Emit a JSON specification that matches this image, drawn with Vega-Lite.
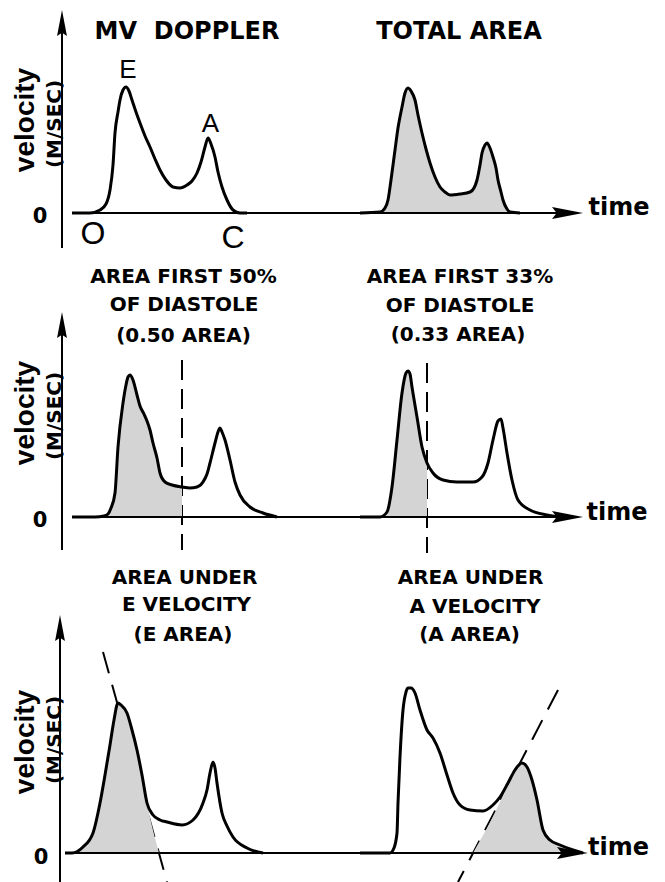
{
  "$schema": "https://vega.github.io/schema/vega-lite/v6.json",
  "background": "white",
  "padding": 0,
  "spacing": 0,
  "bounds": "flush",
  "config": {"view": {"stroke": null}},
  "datasets": {
    "curves": [
      {"row":1,"panel":"L","t":20,"v":0},{"row":1,"panel":"L","t":56,"v":0},{"row":1,"panel":"L","t":76,"v":0.024},{"row":1,"panel":"L","t":88,"v":0.072},{"row":1,"panel":"L","t":96,"v":0.184},{"row":1,"panel":"L","t":102,"v":0.384},{"row":1,"panel":"L","t":106,"v":0.64},{"row":1,"panel":"L","t":112,"v":0.808},{"row":1,"panel":"L","t":116,"v":0.904},{"row":1,"panel":"L","t":122,"v":0.984},{"row":1,"panel":"L","t":128,"v":1.008},{"row":1,"panel":"L","t":134,"v":0.976},{"row":1,"panel":"L","t":140,"v":0.904},{"row":1,"panel":"L","t":148,"v":0.808},{"row":1,"panel":"L","t":156,"v":0.72},{"row":1,"panel":"L","t":166,"v":0.616},{"row":1,"panel":"L","t":176,"v":0.528},{"row":1,"panel":"L","t":186,"v":0.432},{"row":1,"panel":"L","t":196,"v":0.344},{"row":1,"panel":"L","t":208,"v":0.264},{"row":1,"panel":"L","t":222,"v":0.208},{"row":1,"panel":"L","t":236,"v":0.2},{"row":1,"panel":"L","t":250,"v":0.224},{"row":1,"panel":"L","t":260,"v":0.256},{"row":1,"panel":"L","t":270,"v":0.32},{"row":1,"panel":"L","t":278,"v":0.408},{"row":1,"panel":"L","t":286,"v":0.528},{"row":1,"panel":"L","t":292,"v":0.6},{"row":1,"panel":"L","t":298,"v":0.552},{"row":1,"panel":"L","t":306,"v":0.448},{"row":1,"panel":"L","t":312,"v":0.328},{"row":1,"panel":"L","t":320,"v":0.208},{"row":1,"panel":"L","t":330,"v":0.104},{"row":1,"panel":"L","t":342,"v":0.024},{"row":1,"panel":"L","t":356,"v":0},{"row":1,"panel":"L","t":370,"v":0},
      {"row":1,"panel":"R","t":596,"v":0},{"row":1,"panel":"R","t":636,"v":0.008},{"row":1,"panel":"R","t":646,"v":0.04},{"row":1,"panel":"R","t":652,"v":0.104},{"row":1,"panel":"R","t":658,"v":0.264},{"row":1,"panel":"R","t":666,"v":0.504},{"row":1,"panel":"R","t":672,"v":0.68},{"row":1,"panel":"R","t":680,"v":0.848},{"row":1,"panel":"R","t":686,"v":0.96},{"row":1,"panel":"R","t":692,"v":1.0},{"row":1,"panel":"R","t":698,"v":0.976},{"row":1,"panel":"R","t":706,"v":0.904},{"row":1,"panel":"R","t":712,"v":0.784},{"row":1,"panel":"R","t":720,"v":0.64},{"row":1,"panel":"R","t":728,"v":0.512},{"row":1,"panel":"R","t":736,"v":0.4},{"row":1,"panel":"R","t":746,"v":0.288},{"row":1,"panel":"R","t":756,"v":0.208},{"row":1,"panel":"R","t":766,"v":0.168},{"row":1,"panel":"R","t":776,"v":0.144},{"row":1,"panel":"R","t":796,"v":0.152},{"row":1,"panel":"R","t":816,"v":0.168},{"row":1,"panel":"R","t":824,"v":0.2},{"row":1,"panel":"R","t":830,"v":0.264},{"row":1,"panel":"R","t":836,"v":0.384},{"row":1,"panel":"R","t":840,"v":0.48},{"row":1,"panel":"R","t":846,"v":0.544},{"row":1,"panel":"R","t":850,"v":0.56},{"row":1,"panel":"R","t":856,"v":0.52},{"row":1,"panel":"R","t":862,"v":0.448},{"row":1,"panel":"R","t":868,"v":0.36},{"row":1,"panel":"R","t":872,"v":0.264},{"row":1,"panel":"R","t":878,"v":0.168},{"row":1,"panel":"R","t":882,"v":0.104},{"row":1,"panel":"R","t":890,"v":0.032},{"row":1,"panel":"R","t":896,"v":0.008},{"row":1,"panel":"R","t":916,"v":0},
      {"row":2,"panel":"L","t":20,"v":0},{"row":2,"panel":"L","t":66,"v":0},{"row":2,"panel":"L","t":84,"v":0.008},{"row":2,"panel":"L","t":92,"v":0.024},{"row":2,"panel":"L","t":98,"v":0.072},{"row":2,"panel":"L","t":106,"v":0.192},{"row":2,"panel":"L","t":112,"v":0.56},{"row":2,"panel":"L","t":122,"v":0.912},{"row":2,"panel":"L","t":128,"v":1.056},{"row":2,"panel":"L","t":132,"v":1.12},{"row":2,"panel":"L","t":136,"v":1.136},{"row":2,"panel":"L","t":142,"v":1.096},{"row":2,"panel":"L","t":150,"v":0.976},{"row":2,"panel":"L","t":156,"v":0.888},{"row":2,"panel":"L","t":164,"v":0.824},{"row":2,"panel":"L","t":170,"v":0.768},{"row":2,"panel":"L","t":176,"v":0.696},{"row":2,"panel":"L","t":182,"v":0.592},{"row":2,"panel":"L","t":190,"v":0.472},{"row":2,"panel":"L","t":196,"v":0.352},{"row":2,"panel":"L","t":206,"v":0.28},{"row":2,"panel":"L","t":220,"v":0.256},{"row":2,"panel":"L","t":240,"v":0.24},{"row":2,"panel":"L","t":256,"v":0.232},{"row":2,"panel":"L","t":270,"v":0.24},{"row":2,"panel":"L","t":282,"v":0.28},{"row":2,"panel":"L","t":290,"v":0.344},{"row":2,"panel":"L","t":296,"v":0.432},{"row":2,"panel":"L","t":306,"v":0.592},{"row":2,"panel":"L","t":312,"v":0.68},{"row":2,"panel":"L","t":316,"v":0.712},{"row":2,"panel":"L","t":320,"v":0.68},{"row":2,"panel":"L","t":326,"v":0.616},{"row":2,"panel":"L","t":336,"v":0.456},{"row":2,"panel":"L","t":346,"v":0.28},{"row":2,"panel":"L","t":356,"v":0.176},{"row":2,"panel":"L","t":376,"v":0.08},{"row":2,"panel":"L","t":402,"v":0.032},{"row":2,"panel":"L","t":430,"v":0},
      {"row":2,"panel":"R","t":596,"v":0},{"row":2,"panel":"R","t":636,"v":0},{"row":2,"panel":"R","t":650,"v":0.04},{"row":2,"panel":"R","t":660,"v":0.24},{"row":2,"panel":"R","t":670,"v":0.616},{"row":2,"panel":"R","t":680,"v":0.992},{"row":2,"panel":"R","t":688,"v":1.152},{"row":2,"panel":"R","t":692,"v":1.168},{"row":2,"panel":"R","t":696,"v":1.144},{"row":2,"panel":"R","t":700,"v":1.04},{"row":2,"panel":"R","t":710,"v":0.8},{"row":2,"panel":"R","t":720,"v":0.56},{"row":2,"panel":"R","t":730,"v":0.432},{"row":2,"panel":"R","t":742,"v":0.352},{"row":2,"panel":"R","t":762,"v":0.296},{"row":2,"panel":"R","t":790,"v":0.28},{"row":2,"panel":"R","t":822,"v":0.28},{"row":2,"panel":"R","t":840,"v":0.32},{"row":2,"panel":"R","t":852,"v":0.432},{"row":2,"panel":"R","t":862,"v":0.616},{"row":2,"panel":"R","t":872,"v":0.768},{"row":2,"panel":"R","t":878,"v":0.784},{"row":2,"panel":"R","t":882,"v":0.712},{"row":2,"panel":"R","t":890,"v":0.512},{"row":2,"panel":"R","t":900,"v":0.296},{"row":2,"panel":"R","t":912,"v":0.136},{"row":2,"panel":"R","t":936,"v":0.056},{"row":2,"panel":"R","t":970,"v":0.016},{"row":2,"panel":"R","t":996,"v":0},
      {"row":3,"panel":"L","t":6,"v":0},{"row":3,"panel":"L","t":20,"v":0},{"row":3,"panel":"L","t":42,"v":0.048},{"row":3,"panel":"L","t":62,"v":0.16},{"row":3,"panel":"L","t":76,"v":0.4},{"row":3,"panel":"L","t":86,"v":0.624},{"row":3,"panel":"L","t":96,"v":0.864},{"row":3,"panel":"L","t":104,"v":1.064},{"row":3,"panel":"L","t":112,"v":1.2},{"row":3,"panel":"L","t":118,"v":1.184},{"row":3,"panel":"L","t":130,"v":1.12},{"row":3,"panel":"L","t":140,"v":0.984},{"row":3,"panel":"L","t":150,"v":0.824},{"row":3,"panel":"L","t":160,"v":0.624},{"row":3,"panel":"L","t":170,"v":0.4},{"row":3,"panel":"L","t":182,"v":0.304},{"row":3,"panel":"L","t":196,"v":0.264},{"row":3,"panel":"L","t":210,"v":0.248},{"row":3,"panel":"L","t":240,"v":0.224},{"row":3,"panel":"L","t":262,"v":0.264},{"row":3,"panel":"L","t":282,"v":0.4},{"row":3,"panel":"L","t":290,"v":0.504},{"row":3,"panel":"L","t":296,"v":0.64},{"row":3,"panel":"L","t":302,"v":0.728},{"row":3,"panel":"L","t":306,"v":0.68},{"row":3,"panel":"L","t":310,"v":0.56},{"row":3,"panel":"L","t":320,"v":0.32},{"row":3,"panel":"L","t":330,"v":0.216},{"row":3,"panel":"L","t":342,"v":0.128},{"row":3,"panel":"L","t":370,"v":0.04},{"row":3,"panel":"L","t":402,"v":0},
      {"row":3,"panel":"R","t":596,"v":0},{"row":3,"panel":"R","t":656,"v":0},{"row":3,"panel":"R","t":664,"v":0.04},{"row":3,"panel":"R","t":670,"v":0.16},{"row":3,"panel":"R","t":672,"v":0.4},{"row":3,"panel":"R","t":676,"v":0.768},{"row":3,"panel":"R","t":682,"v":1.144},{"row":3,"panel":"R","t":688,"v":1.288},{"row":3,"panel":"R","t":692,"v":1.32},{"row":3,"panel":"R","t":698,"v":1.32},{"row":3,"panel":"R","t":706,"v":1.28},{"row":3,"panel":"R","t":716,"v":1.144},{"row":3,"panel":"R","t":730,"v":0.984},{"row":3,"panel":"R","t":742,"v":0.92},{"row":3,"panel":"R","t":756,"v":0.8},{"row":3,"panel":"R","t":770,"v":0.624},{"row":3,"panel":"R","t":782,"v":0.48},{"row":3,"panel":"R","t":796,"v":0.384},{"row":3,"panel":"R","t":816,"v":0.344},{"row":3,"panel":"R","t":842,"v":0.336},{"row":3,"panel":"R","t":862,"v":0.384},{"row":3,"panel":"R","t":876,"v":0.448},{"row":3,"panel":"R","t":892,"v":0.56},{"row":3,"panel":"R","t":906,"v":0.664},{"row":3,"panel":"R","t":920,"v":0.72},{"row":3,"panel":"R","t":930,"v":0.688},{"row":3,"panel":"R","t":940,"v":0.584},{"row":3,"panel":"R","t":950,"v":0.424},{"row":3,"panel":"R","t":962,"v":0.184},{"row":3,"panel":"R","t":976,"v":0.104},{"row":3,"panel":"R","t":996,"v":0.064},{"row":3,"panel":"R","t":1022,"v":0.024},{"row":3,"panel":"R","t":1042,"v":0}
    ],
    "fills": [
      {"row":1,"panel":"R","t":596,"v":0},{"row":1,"panel":"R","t":636,"v":0.008},{"row":1,"panel":"R","t":646,"v":0.04},{"row":1,"panel":"R","t":652,"v":0.104},{"row":1,"panel":"R","t":658,"v":0.264},{"row":1,"panel":"R","t":666,"v":0.504},{"row":1,"panel":"R","t":672,"v":0.68},{"row":1,"panel":"R","t":680,"v":0.848},{"row":1,"panel":"R","t":686,"v":0.96},{"row":1,"panel":"R","t":692,"v":1.0},{"row":1,"panel":"R","t":698,"v":0.976},{"row":1,"panel":"R","t":706,"v":0.904},{"row":1,"panel":"R","t":712,"v":0.784},{"row":1,"panel":"R","t":720,"v":0.64},{"row":1,"panel":"R","t":728,"v":0.512},{"row":1,"panel":"R","t":736,"v":0.4},{"row":1,"panel":"R","t":746,"v":0.288},{"row":1,"panel":"R","t":756,"v":0.208},{"row":1,"panel":"R","t":766,"v":0.168},{"row":1,"panel":"R","t":776,"v":0.144},{"row":1,"panel":"R","t":796,"v":0.152},{"row":1,"panel":"R","t":816,"v":0.168},{"row":1,"panel":"R","t":824,"v":0.2},{"row":1,"panel":"R","t":830,"v":0.264},{"row":1,"panel":"R","t":836,"v":0.384},{"row":1,"panel":"R","t":840,"v":0.48},{"row":1,"panel":"R","t":846,"v":0.544},{"row":1,"panel":"R","t":850,"v":0.56},{"row":1,"panel":"R","t":856,"v":0.52},{"row":1,"panel":"R","t":862,"v":0.448},{"row":1,"panel":"R","t":868,"v":0.36},{"row":1,"panel":"R","t":872,"v":0.264},{"row":1,"panel":"R","t":878,"v":0.168},{"row":1,"panel":"R","t":882,"v":0.104},{"row":1,"panel":"R","t":890,"v":0.032},{"row":1,"panel":"R","t":896,"v":0.008},{"row":1,"panel":"R","t":916,"v":0},
      {"row":2,"panel":"L","t":66,"v":0},{"row":2,"panel":"L","t":84,"v":0.008},{"row":2,"panel":"L","t":92,"v":0.024},{"row":2,"panel":"L","t":98,"v":0.072},{"row":2,"panel":"L","t":106,"v":0.192},{"row":2,"panel":"L","t":112,"v":0.56},{"row":2,"panel":"L","t":122,"v":0.912},{"row":2,"panel":"L","t":128,"v":1.056},{"row":2,"panel":"L","t":132,"v":1.12},{"row":2,"panel":"L","t":136,"v":1.136},{"row":2,"panel":"L","t":142,"v":1.096},{"row":2,"panel":"L","t":150,"v":0.976},{"row":2,"panel":"L","t":156,"v":0.888},{"row":2,"panel":"L","t":164,"v":0.824},{"row":2,"panel":"L","t":170,"v":0.768},{"row":2,"panel":"L","t":176,"v":0.696},{"row":2,"panel":"L","t":182,"v":0.592},{"row":2,"panel":"L","t":190,"v":0.472},{"row":2,"panel":"L","t":196,"v":0.352},{"row":2,"panel":"L","t":206,"v":0.28},{"row":2,"panel":"L","t":220,"v":0.256},{"row":2,"panel":"L","t":240,"v":0.24},
      {"row":2,"panel":"R","t":636,"v":0},{"row":2,"panel":"R","t":650,"v":0.04},{"row":2,"panel":"R","t":660,"v":0.24},{"row":2,"panel":"R","t":670,"v":0.616},{"row":2,"panel":"R","t":680,"v":0.992},{"row":2,"panel":"R","t":688,"v":1.152},{"row":2,"panel":"R","t":692,"v":1.168},{"row":2,"panel":"R","t":696,"v":1.144},{"row":2,"panel":"R","t":700,"v":1.04},{"row":2,"panel":"R","t":710,"v":0.8},{"row":2,"panel":"R","t":720,"v":0.56},{"row":2,"panel":"R","t":730,"v":0.432},
      {"row":3,"panel":"L","t":20,"v":0},{"row":3,"panel":"L","t":42,"v":0.048},{"row":3,"panel":"L","t":62,"v":0.16},{"row":3,"panel":"L","t":76,"v":0.4},{"row":3,"panel":"L","t":86,"v":0.624},{"row":3,"panel":"L","t":96,"v":0.864},{"row":3,"panel":"L","t":104,"v":1.064},{"row":3,"panel":"L","t":112,"v":1.2},{"row":3,"panel":"L","t":118,"v":1.184},{"row":3,"panel":"L","t":130,"v":1.12},{"row":3,"panel":"L","t":140,"v":0.984},{"row":3,"panel":"L","t":150,"v":0.824},{"row":3,"panel":"L","t":160,"v":0.624},{"row":3,"panel":"L","t":170,"v":0.4},{"row":3,"panel":"L","t":194,"v":0},
      {"row":3,"panel":"R","t":822,"v":0},{"row":3,"panel":"R","t":890,"v":0.54},{"row":3,"panel":"R","t":892,"v":0.56},{"row":3,"panel":"R","t":906,"v":0.664},{"row":3,"panel":"R","t":920,"v":0.72},{"row":3,"panel":"R","t":930,"v":0.688},{"row":3,"panel":"R","t":940,"v":0.584},{"row":3,"panel":"R","t":950,"v":0.424},{"row":3,"panel":"R","t":962,"v":0.184},{"row":3,"panel":"R","t":976,"v":0.104},{"row":3,"panel":"R","t":996,"v":0.064},{"row":3,"panel":"R","t":1022,"v":0.024},{"row":3,"panel":"R","t":1042,"v":0}
    ],
    "axes": [
      {"row":1,"t":0,"v":-0.28,"t2":0,"v2":1.56},{"row":1,"t":20,"v":0,"t2":1030,"v2":0},
      {"row":2,"t":0,"v":-0.264,"t2":0,"v2":1.58},{"row":2,"t":20,"v":0,"t2":1030,"v2":0},
      {"row":3,"t":-4,"v":-0.232,"t2":-4,"v2":1.84},{"row":3,"t":6,"v":0,"t2":1040,"v2":0}
    ],
    "dashes": [
      {"row":2,"t":240,"v":1.256,"t2":240,"v2":-0.264},{"row":2,"t":730,"v":1.232,"t2":730,"v2":-0.288},
      {"row":3,"t":82,"v":1.608,"t2":210,"v2":-0.232},{"row":3,"t":992,"v":1.304,"t2":792,"v2":-0.232}
    ],
    "uparrows": [{"row":1,"t":0,"v":1.52},{"row":2,"t":0,"v":1.536},{"row":3,"t":-4,"v":1.8}],
    "rightarrows": [{"row":1,"t":1011,"v":0},{"row":2,"t":1011,"v":0},{"row":3,"t":1021,"v":0}],
    "labels": [
      {"row":1,"role":"title","text":"MV\u00a0 DOPPLER","t":250,"v":1.448},
      {"row":1,"role":"title","text":"TOTAL AREA","t":794,"v":1.448},
      {"row":1,"role":"ylabel","text":"velocity","t":-72,"v":0.744},
      {"row":1,"role":"yunit","text":"(M/SEC)","t":-14,"v":0.712},
      {"row":1,"role":"zero","text":"0","t":-44,"v":-0.032},
      {"row":1,"role":"time","text":"time","t":1114,"v":0.04},
      {"row":1,"role":"peak","text":"E","t":132,"v":1.144},
      {"row":1,"role":"peak","text":"A","t":297,"v":0.712},
      {"row":1,"role":"valve","text":"O","t":62,"v":-0.168},
      {"row":1,"role":"valve","text":"C","t":342,"v":-0.2},
      {"row":2,"role":"title","text":"AREA FIRST 50%","t":243,"v":1.92},
      {"row":2,"role":"title","text":"OF DIASTOLE","t":244,"v":1.696},
      {"row":2,"role":"title","text":"(0.50 AREA)","t":243,"v":1.448},
      {"row":2,"role":"title","text":"AREA FIRST 33%","t":796,"v":1.92},
      {"row":2,"role":"title","text":"OF DIASTOLE","t":796,"v":1.688},
      {"row":2,"role":"title","text":"(0.33 AREA)","t":792,"v":1.456},
      {"row":2,"role":"ylabel","text":"velocity","t":-72,"v":0.832},
      {"row":2,"role":"yunit","text":"(M/SEC)","t":-14,"v":0.808},
      {"row":2,"role":"zero","text":"0","t":-44,"v":-0.028},
      {"row":2,"role":"time","text":"time","t":1110,"v":0.032},
      {"row":3,"role":"title","text":"AREA UNDER","t":245,"v":2.2},
      {"row":3,"role":"title","text":"E VELOCITY","t":249,"v":1.984},
      {"row":3,"role":"title","text":"(E AREA)","t":242,"v":1.744},
      {"row":3,"role":"title","text":"AREA UNDER","t":817,"v":2.2},
      {"row":3,"role":"title","text":"A VELOCITY","t":826,"v":1.968},
      {"row":3,"role":"title","text":"(A AREA)","t":815,"v":1.744},
      {"row":3,"role":"ylabel","text":"velocity","t":-72,"v":0.888},
      {"row":3,"role":"yunit","text":"(M/SEC)","t":-14,"v":0.904},
      {"row":3,"role":"zero","text":"0","t":-42,"v":-0.04},
      {"row":3,"role":"time","text":"time","t":1113,"v":0.04}
    ]
  },
  "vconcat": [
    {
      "width": 665, "height": 260,
      "encoding": {
        "x": {"field": "t", "type": "quantitative", "scale": {"domain": [-124, 1206], "nice": false, "zero": false}, "axis": null},
        "y": {"field": "v", "type": "quantitative", "scale": {"domain": [-0.376, 1.704], "nice": false, "zero": false}, "axis": null}
      },
      "layer": [
        {"data": {"name": "fills"}, "transform": [{"filter": "datum.row == 1 && datum.panel == 'R'"}], "mark": {"type": "area", "fill": "#d4d4d4", "interpolate": "monotone"}, "encoding": {"y2": {"datum": 0}}},
        {"data": {"name": "curves"}, "transform": [{"filter": "datum.row == 1"}], "mark": {"type": "line", "color": "black", "strokeWidth": 3, "interpolate": "monotone"}, "encoding": {"detail": {"field": "panel"}}},
        {"data": {"name": "axes"}, "transform": [{"filter": "datum.row == 1"}], "mark": {"type": "rule", "color": "black", "strokeWidth": 2}, "encoding": {"x2": {"field": "t2"}, "y2": {"field": "v2"}}},
        {"data": {"name": "uparrows"}, "transform": [{"filter": "datum.row == 1"}], "mark": {"type": "point", "shape": "M0,-1L0.38,1L0,0.75L-0.38,1Z", "size": 676, "filled": true, "color": "black", "opacity": 1, "strokeWidth": 0}},
        {"data": {"name": "rightarrows"}, "transform": [{"filter": "datum.row == 1"}], "mark": {"type": "point", "shape": "M1,0L-1,-0.38L-0.7,0L-1,0.38Z", "size": 961, "filled": true, "color": "black", "opacity": 1, "strokeWidth": 0}},
        {"data": {"name": "labels"}, "transform": [{"filter": "datum.row == 1 && datum.role == 'title'"}], "mark": {"type": "text", "font": "DejaVu Sans", "fontWeight": "bold", "fontSize": 24, "align": "center", "baseline": "middle", "color": "black"}, "encoding": {"text": {"field": "text"}}},
        {"data": {"name": "labels"}, "transform": [{"filter": "datum.row == 1 && datum.role == 'ylabel'"}], "mark": {"type": "text", "font": "Liberation Sans", "fontWeight": "bold", "fontSize": 28, "angle": 270, "align": "center", "baseline": "middle", "color": "black"}, "encoding": {"text": {"field": "text"}}},
        {"data": {"name": "labels"}, "transform": [{"filter": "datum.row == 1 && datum.role == 'yunit'"}], "mark": {"type": "text", "font": "DejaVu Sans", "fontWeight": "bold", "fontSize": 20, "angle": 270, "align": "center", "baseline": "middle", "color": "black"}, "encoding": {"text": {"field": "text"}}},
        {"data": {"name": "labels"}, "transform": [{"filter": "datum.row == 1 && datum.role == 'zero'"}], "mark": {"type": "text", "font": "DejaVu Sans", "fontWeight": "bold", "fontSize": 21, "align": "center", "baseline": "middle", "color": "black"}, "encoding": {"text": {"field": "text"}}},
        {"data": {"name": "labels"}, "transform": [{"filter": "datum.row == 1 && datum.role == 'time'"}], "mark": {"type": "text", "font": "DejaVu Sans", "fontWeight": "bold", "fontSize": 24, "align": "center", "baseline": "middle", "color": "black"}, "encoding": {"text": {"field": "text"}}},
        {"data": {"name": "labels"}, "transform": [{"filter": "datum.row == 1 && datum.role == 'peak'"}], "mark": {"type": "text", "font": "Liberation Sans", "fontSize": 26, "align": "center", "baseline": "middle", "color": "black"}, "encoding": {"text": {"field": "text"}}},
        {"data": {"name": "labels"}, "transform": [{"filter": "datum.row == 1 && datum.role == 'valve'"}], "mark": {"type": "text", "font": "Liberation Sans", "fontSize": 32, "align": "center", "baseline": "middle", "color": "black"}, "encoding": {"text": {"field": "text"}}}
      ]
    },
    {
      "width": 665, "height": 310,
      "encoding": {
        "x": {"field": "t", "type": "quantitative", "scale": {"domain": [-124, 1206], "nice": false, "zero": false}, "axis": null},
        "y": {"field": "v", "type": "quantitative", "scale": {"domain": [-0.424, 2.056], "nice": false, "zero": false}, "axis": null}
      },
      "layer": [
        {"data": {"name": "dashes"}, "transform": [{"filter": "datum.row == 2"}], "mark": {"type": "rule", "color": "black", "strokeWidth": 2, "strokeDash": [20, 9]}, "encoding": {"x2": {"field": "t2"}, "y2": {"field": "v2"}}},
        {"data": {"name": "fills"}, "transform": [{"filter": "datum.row == 2 && datum.panel == 'L'"}], "mark": {"type": "area", "fill": "#d4d4d4", "interpolate": "monotone"}, "encoding": {"y2": {"datum": 0}}},
        {"data": {"name": "fills"}, "transform": [{"filter": "datum.row == 2 && datum.panel == 'R'"}], "mark": {"type": "area", "fill": "#d4d4d4", "interpolate": "monotone"}, "encoding": {"y2": {"datum": 0}}},
        {"data": {"name": "curves"}, "transform": [{"filter": "datum.row == 2"}], "mark": {"type": "line", "color": "black", "strokeWidth": 3, "interpolate": "monotone"}, "encoding": {"detail": {"field": "panel"}}},
        {"data": {"name": "axes"}, "transform": [{"filter": "datum.row == 2"}], "mark": {"type": "rule", "color": "black", "strokeWidth": 2}, "encoding": {"x2": {"field": "t2"}, "y2": {"field": "v2"}}},
        {"data": {"name": "uparrows"}, "transform": [{"filter": "datum.row == 2"}], "mark": {"type": "point", "shape": "M0,-1L0.38,1L0,0.75L-0.38,1Z", "size": 676, "filled": true, "color": "black", "opacity": 1, "strokeWidth": 0}},
        {"data": {"name": "rightarrows"}, "transform": [{"filter": "datum.row == 2"}], "mark": {"type": "point", "shape": "M1,0L-1,-0.38L-0.7,0L-1,0.38Z", "size": 961, "filled": true, "color": "black", "opacity": 1, "strokeWidth": 0}},
        {"data": {"name": "labels"}, "transform": [{"filter": "datum.row == 2 && datum.role == 'title'"}], "mark": {"type": "text", "font": "DejaVu Sans", "fontWeight": "bold", "fontSize": 20, "align": "center", "baseline": "middle", "color": "black"}, "encoding": {"text": {"field": "text"}}},
        {"data": {"name": "labels"}, "transform": [{"filter": "datum.row == 2 && datum.role == 'ylabel'"}], "mark": {"type": "text", "font": "Liberation Sans", "fontWeight": "bold", "fontSize": 28, "angle": 270, "align": "center", "baseline": "middle", "color": "black"}, "encoding": {"text": {"field": "text"}}},
        {"data": {"name": "labels"}, "transform": [{"filter": "datum.row == 2 && datum.role == 'yunit'"}], "mark": {"type": "text", "font": "DejaVu Sans", "fontWeight": "bold", "fontSize": 20, "angle": 270, "align": "center", "baseline": "middle", "color": "black"}, "encoding": {"text": {"field": "text"}}},
        {"data": {"name": "labels"}, "transform": [{"filter": "datum.row == 2 && datum.role == 'zero'"}], "mark": {"type": "text", "font": "DejaVu Sans", "fontWeight": "bold", "fontSize": 21, "align": "center", "baseline": "middle", "color": "black"}, "encoding": {"text": {"field": "text"}}},
        {"data": {"name": "labels"}, "transform": [{"filter": "datum.row == 2 && datum.role == 'time'"}], "mark": {"type": "text", "font": "DejaVu Sans", "fontWeight": "bold", "fontSize": 24, "align": "center", "baseline": "middle", "color": "black"}, "encoding": {"text": {"field": "text"}}}
      ]
    },
    {
      "width": 665, "height": 312,
      "encoding": {
        "x": {"field": "t", "type": "quantitative", "scale": {"domain": [-124, 1206], "nice": false, "zero": false}, "axis": null},
        "y": {"field": "v", "type": "quantitative", "scale": {"domain": [-0.232, 2.264], "nice": false, "zero": false}, "axis": null}
      },
      "layer": [
        {"data": {"name": "dashes"}, "transform": [{"filter": "datum.row == 3"}], "mark": {"type": "rule", "color": "black", "strokeWidth": 2, "strokeDash": [22, 12]}, "encoding": {"x2": {"field": "t2"}, "y2": {"field": "v2"}}},
        {"data": {"name": "fills"}, "transform": [{"filter": "datum.row == 3 && datum.panel == 'L'"}], "mark": {"type": "area", "fill": "#d4d4d4", "interpolate": "monotone"}, "encoding": {"y2": {"datum": 0}}},
        {"data": {"name": "fills"}, "transform": [{"filter": "datum.row == 3 && datum.panel == 'R'"}], "mark": {"type": "area", "fill": "#d4d4d4", "interpolate": "monotone"}, "encoding": {"y2": {"datum": 0}}},
        {"data": {"name": "curves"}, "transform": [{"filter": "datum.row == 3"}], "mark": {"type": "line", "color": "black", "strokeWidth": 3, "interpolate": "monotone"}, "encoding": {"detail": {"field": "panel"}}},
        {"data": {"name": "axes"}, "transform": [{"filter": "datum.row == 3"}], "mark": {"type": "rule", "color": "black", "strokeWidth": 2}, "encoding": {"x2": {"field": "t2"}, "y2": {"field": "v2"}}},
        {"data": {"name": "uparrows"}, "transform": [{"filter": "datum.row == 3"}], "mark": {"type": "point", "shape": "M0,-1L0.38,1L0,0.75L-0.38,1Z", "size": 676, "filled": true, "color": "black", "opacity": 1, "strokeWidth": 0}},
        {"data": {"name": "rightarrows"}, "transform": [{"filter": "datum.row == 3"}], "mark": {"type": "point", "shape": "M1,0L-1,-0.38L-0.7,0L-1,0.38Z", "size": 961, "filled": true, "color": "black", "opacity": 1, "strokeWidth": 0}},
        {"data": {"name": "labels"}, "transform": [{"filter": "datum.row == 3 && datum.role == 'title'"}], "mark": {"type": "text", "font": "DejaVu Sans", "fontWeight": "bold", "fontSize": 20, "align": "center", "baseline": "middle", "color": "black"}, "encoding": {"text": {"field": "text"}}},
        {"data": {"name": "labels"}, "transform": [{"filter": "datum.row == 3 && datum.role == 'ylabel'"}], "mark": {"type": "text", "font": "Liberation Sans", "fontWeight": "bold", "fontSize": 28, "angle": 270, "align": "center", "baseline": "middle", "color": "black"}, "encoding": {"text": {"field": "text"}}},
        {"data": {"name": "labels"}, "transform": [{"filter": "datum.row == 3 && datum.role == 'yunit'"}], "mark": {"type": "text", "font": "DejaVu Sans", "fontWeight": "bold", "fontSize": 20, "angle": 270, "align": "center", "baseline": "middle", "color": "black"}, "encoding": {"text": {"field": "text"}}},
        {"data": {"name": "labels"}, "transform": [{"filter": "datum.row == 3 && datum.role == 'zero'"}], "mark": {"type": "text", "font": "DejaVu Sans", "fontWeight": "bold", "fontSize": 21, "align": "center", "baseline": "middle", "color": "black"}, "encoding": {"text": {"field": "text"}}},
        {"data": {"name": "labels"}, "transform": [{"filter": "datum.row == 3 && datum.role == 'time'"}], "mark": {"type": "text", "font": "DejaVu Sans", "fontWeight": "bold", "fontSize": 24, "align": "center", "baseline": "middle", "color": "black"}, "encoding": {"text": {"field": "text"}}}
      ]
    }
  ]
}
